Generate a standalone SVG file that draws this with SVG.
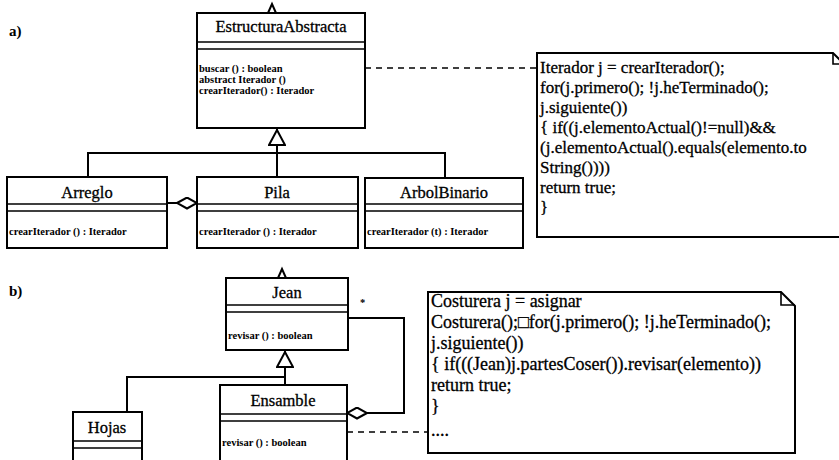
<svg xmlns="http://www.w3.org/2000/svg" width="839" height="460" viewBox="0 0 839 460">
  <style>
    .box{fill:#fff;stroke:#000;stroke-width:2}
    .sep{fill:none;stroke:#000;stroke-width:1.6}
    .name{font-family:"Liberation Serif","Times New Roman",serif;font-size:16.5px;text-anchor:middle;stroke:#000;stroke-width:0.3}
    .op{font-family:"Liberation Serif","Times New Roman",serif;font-size:10.5px;font-weight:bold}
    .code{font-family:"Liberation Serif","Times New Roman",serif;font-size:17px;stroke:#000;stroke-width:0.3}
    .codeb{font-family:"Liberation Serif","Times New Roman",serif;font-size:18px;stroke:#000;stroke-width:0.3}
    .label{font-family:"Liberation Serif","Times New Roman",serif;font-size:15px;font-weight:bold}
    .edge{fill:none;stroke:#000;stroke-width:2}
    .dash{fill:none;stroke:#000;stroke-width:1.6;stroke-dasharray:6 5}
    .note{fill:#fff;stroke:#000;stroke-width:2}
  </style>
  <defs>
    <!-- hollow triangle for generalization -->
    <marker id="gen" viewBox="0 0 17 18" refX="17" refY="9" markerWidth="17" markerHeight="18" markerUnits="userSpaceOnUse" orient="auto">
      <path d="M1,1 L16,9 L1,17 Z" fill="#fff" stroke="#000" stroke-width="2"/>
    </marker>
    <!-- hollow diamond for aggregation -->
    <marker id="agg" viewBox="0 0 22 13" refX="21" refY="6.5" markerWidth="22" markerHeight="13" markerUnits="userSpaceOnUse" orient="auto">
      <path d="M1,6.5 L11,1 L21,6.5 L11,12 Z" fill="#fff" stroke="#000" stroke-width="2"/>
    </marker>
  </defs>

  <rect width="839" height="460" fill="#fff"/>

  <text class="label" x="9" y="36">a)</text>
  <text class="label" x="9" y="296">b)</text>

  <!-- connectors -->
  <g id="connectors">
    <!-- part a -->
    <path class="edge" d="M268,13 L272,4 L276,13"/>
    <path class="edge" d="M277,177 V129" marker-end="url(#gen)"/>
    <path class="edge" d="M88,177 V153 H445 V178"/>
    <path class="edge" d="M167,203 H197" marker-end="url(#agg)"/>
    <path class="dash" d="M365,68 H537"/>
    <!-- part b -->
    <path class="edge" d="M278,278 L282,269 L286,278"/>
    <path class="edge" d="M285,385 V351" marker-end="url(#gen)"/>
    <path class="edge" d="M127,412 V377 H285"/>
    <path class="edge" d="M348,318 H404 V413 H347" marker-end="url(#agg)"/>
    <text class="op" x="360" y="306">*</text>
    <path class="dash" d="M347,432 H428"/>
  </g>

  <!-- part a classes -->
  <g id="EstructuraAbstracta">
    <rect class="box" x="197" y="13" width="168" height="115"/>
    <path class="sep" d="M197,42 H365 M197,49 H365"/>
    <text class="name" x="281" y="32">EstructuraAbstracta</text>
    <text class="op" x="199" y="72">buscar () : boolean</text>
    <text class="op" x="199" y="83">abstract Iterador ()</text>
    <text class="op" x="199" y="94">crearIterador() : Iterador</text>
  </g>

  <g id="Arreglo">
    <rect class="box" x="7" y="177" width="160" height="71"/>
    <path class="sep" d="M7,204 H167 M7,211 H167"/>
    <text class="name" x="87" y="198">Arreglo</text>
    <text class="op" x="9" y="235">crearIterador () : Iterador</text>
  </g>

  <g id="Pila">
    <rect class="box" x="197" y="177" width="161" height="71"/>
    <path class="sep" d="M197,204 H358 M197,211 H358"/>
    <text class="name" x="277" y="198">Pila</text>
    <text class="op" x="199" y="235">crearIterador () : Iterador</text>
  </g>

  <g id="ArbolBinario">
    <rect class="box" x="365" y="178" width="158" height="70"/>
    <path class="sep" d="M365,204 H523 M365,211 H523"/>
    <text class="name" x="444" y="198">ArbolBinario</text>
    <text class="op" x="367" y="235">crearIterador (t) : Iterador</text>
  </g>

  <g id="nota-buscar">
    <path class="note" d="M537,53 H833 L847,67 V237 H537 Z"/>
    <path class="sep" d="M833,53 V64 H847"/>
    <text class="code" x="540" y="73">Iterador j = crearIterador();</text>
    <text class="code" x="540" y="93">for(j.primero(); !j.heTerminado();</text>
    <text class="code" x="540" y="113">j.siguiente())</text>
    <text class="code" x="540" y="133">{ if((j.elementoActual()!=null)&amp;&amp;</text>
    <text class="code" x="540" y="153">(j.elementoActual().equals(elemento.to</text>
    <text class="code" x="540" y="173">String())))</text>
    <text class="code" x="540" y="193">return true;</text>
    <text class="code" x="540" y="213">}</text>
  </g>

  <!-- part b classes -->
  <g id="Jean">
    <rect class="box" x="226" y="278" width="122" height="72"/>
    <path class="sep" d="M226,305 H348 M226,312 H348"/>
    <text class="name" x="287" y="298">Jean</text>
    <text class="op" x="228" y="339">revisar () : boolean</text>
  </g>

  <g id="Ensamble">
    <rect class="box" x="220" y="385" width="127" height="90"/>
    <path class="sep" d="M220,414 H347 M220,421 H347"/>
    <text class="name" x="283" y="406">Ensamble</text>
    <text class="op" x="222" y="446">revisar () : boolean</text>
  </g>

  <g id="Hojas">
    <rect class="box" x="73" y="412" width="69" height="60"/>
    <path class="sep" d="M73,441 H142 M73,448 H142"/>
    <text class="name" x="107" y="433">Hojas</text>
  </g>

  <g id="nota-revisar">
    <path class="note" d="M428,292 H781 L795,306 V453 H428 Z"/>
    <path class="sep" d="M781,292 V305 H795"/>
    <text class="codeb" x="431" y="307">Costurera j = asignar</text>
    <text class="codeb" x="431" y="328">Costurera();□for(j.primero(); !j.heTerminado();</text>
    <text class="codeb" x="431" y="349">j.siguiente())</text>
    <text class="codeb" x="431" y="370">{ if(((Jean)j.partesCoser()).revisar(elemento))</text>
    <text class="codeb" x="431" y="391">return true;</text>
    <text class="codeb" x="431" y="412">}</text>
    <text class="codeb" x="431" y="436">....</text>
  </g>
</svg>
